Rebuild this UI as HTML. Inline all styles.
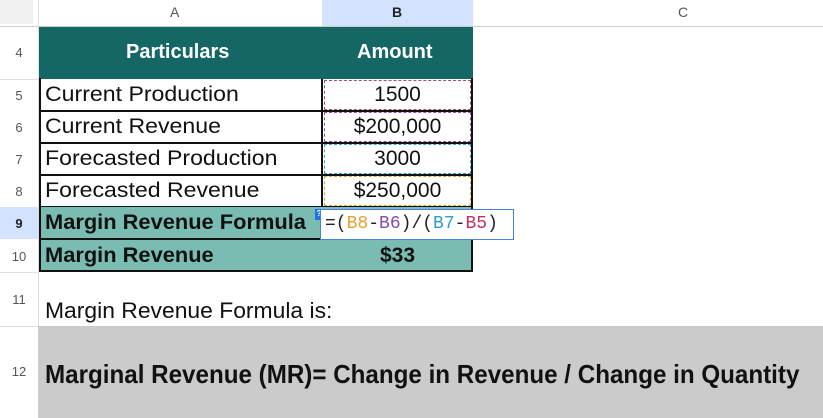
<!DOCTYPE html>
<html><head><meta charset="utf-8"><style>
body{margin:0;width:823px;height:418px;overflow:hidden;background:#fff;font-family:"Liberation Sans",sans-serif;position:relative}
div{position:absolute;box-sizing:border-box}
.rn{left:0;width:38px;color:#555;font-size:13px;text-align:center}
.t{white-space:nowrap;transform-origin:0 50%}
.hc{color:#fff;font-weight:bold;font-size:20px}
.c{font-size:21px;color:#111;transform:scaleX(1.1)}
.cc{font-size:21px;color:#111;width:147px;text-align:center;white-space:nowrap}
</style></head><body>
<div style="left:0;top:0;width:823px;height:27px;background:#fff;border-bottom:1px solid #ccc"></div>
<div style="left:0;top:0;width:33px;height:24px;background:#f1f1f1"></div>
<div style="left:38px;top:0;width:1px;height:418px;background:#ddd"></div>
<div style="left:322px;top:0;width:151px;height:26px;background:#d3e3fd"></div>
<div style="left:170px;top:4px;color:#555;font-size:14px">A</div>
<div style="left:392px;top:4px;color:#222;font-size:14px;font-weight:bold">B</div>
<div style="left:678px;top:4px;color:#555;font-size:14px">C</div>
<div class="rn" style="top:45px">4</div>
<div class="rn" style="top:88px">5</div>
<div class="rn" style="top:120px">6</div>
<div class="rn" style="top:152px">7</div>
<div class="rn" style="top:184px">8</div>
<div style="left:0;top:207px;width:38px;height:32px;background:#d3e3fd"></div>
<div class="rn" style="top:216px;font-weight:bold;color:#222">9</div>
<div class="rn" style="top:249px">10</div>
<div class="rn" style="top:292px">11</div>
<div class="rn" style="top:364px">12</div>
<div style="left:0;top:79px;width:38px;height:1px;background:#ddd"></div>
<div style="left:0;top:272px;width:38px;height:1px;background:#ddd"></div>
<div style="left:0;top:326px;width:38px;height:1px;background:#ddd"></div>
<div style="left:39px;top:27px;width:434px;height:52px;background:#156766"></div>
<div class="hc t" style="left:126px;top:41px">Particulars</div>
<div class="hc t" style="left:357px;top:41px">Amount</div>
<div style="left:39px;top:78px;width:434px;height:130px;border:2px solid #111;border-top:none"></div>
<div style="left:39px;top:110px;width:434px;height:2px;background:#111"></div>
<div style="left:39px;top:142px;width:434px;height:2px;background:#111"></div>
<div style="left:39px;top:174px;width:434px;height:2px;background:#111"></div>
<div style="left:321px;top:79px;width:2px;height:193px;background:#111"></div>
<div style="left:324px;top:80px;width:147px;height:30px;border:1px dashed #b04a6a"></div>
<div style="left:324px;top:112px;width:147px;height:30px;border:1px dashed #9a4fb0"></div>
<div style="left:324px;top:144px;width:147px;height:30px;border:1px dashed #3a9fc0"></div>
<div style="left:324px;top:176px;width:147px;height:30px;border:1px dashed #e0a040"></div>
<div class="c t" style="left:45px;top:83px">Current Production</div>
<div class="c t" style="left:45px;top:115px">Current Revenue</div>
<div class="c t" style="left:45px;top:147px">Forecasted Production</div>
<div class="c t" style="left:45px;top:179px">Forecasted Revenue</div>
<div class="cc" style="left:324px;top:83px">1500</div>
<div class="cc" style="left:324px;top:115px">$200,000</div>
<div class="cc" style="left:324px;top:147px">3000</div>
<div class="cc" style="left:324px;top:179px">$250,000</div>
<div style="left:39px;top:207px;width:434px;height:65px;background:#7bbcb2;border:2px solid #111;border-top:none"></div>
<div style="left:39px;top:238px;width:434px;height:2px;background:#111"></div>
<div class="c t" style="left:45px;top:211px;font-weight:bold;transform:scaleX(1.04)">Margin Revenue Formula</div>
<div class="c t" style="left:45px;top:244px;font-weight:bold;transform:scaleX(1.04)">Margin Revenue</div>
<div class="cc" style="left:324px;top:244px;font-weight:bold">$33</div>
<div style="left:315px;top:209px;width:8px;height:11px;background:#1a73e8;color:#fff;font-size:8px;text-align:center;font-weight:bold">?</div>
<div style="left:320px;top:209px;width:194px;height:31px;background:#fff;border:1px solid #4a80e0"></div>
<div class="t" style="left:325px;top:214px;font-family:'Liberation Mono',monospace;font-size:18px;color:#222">=(<span style="color:#e8a030">B8</span>-<span style="color:#8a4aa8">B6</span>)/(<span style="color:#2aa0c8">B7</span>-<span style="color:#c03060">B5</span>)</div>
<div class="t" style="left:45px;top:298px;font-size:22px;color:#111;transform:scaleX(1.04)">Margin Revenue Formula is:</div>
<div style="left:38px;top:326px;width:785px;height:92px;background:#cbcbcb"></div>
<div class="t" style="left:45px;top:359px;font-size:26px;font-weight:bold;color:#111;transform:scaleX(0.93)">Marginal Revenue (MR)= Change in Revenue / Change in Quantity</div>
</body></html>
